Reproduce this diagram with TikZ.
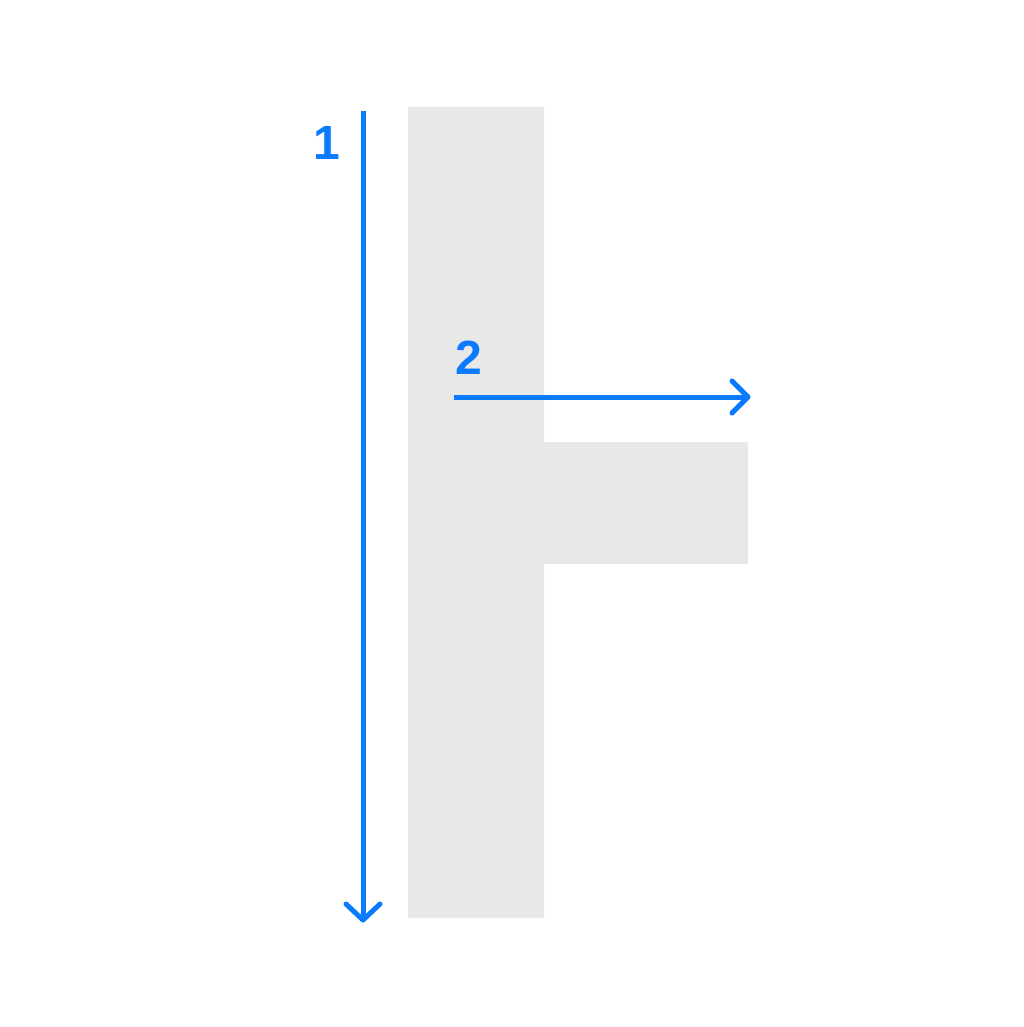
\documentclass[tikz,border=0pt]{standalone}
\usepackage{fontspec}
\setmainfont{Liberation Sans}
\definecolor{iosblue}{RGB}{10,122,255}
\definecolor{shapegray}{RGB}{232,232,232}
\tikzset{
  measure/.style={draw=iosblue, line width=5pt, line cap=round, line join=round},
  numlabel/.style={text=iosblue, font=\fontsize{48}{48}\selectfont\bfseries, inner sep=0pt}
}
\begin{document}
\begin{tikzpicture}[x=1pt,y=-1pt]
\useasboundingbox[fill=white] (0,0) rectangle (1024,1027);
% gray T-shape
\fill[shapegray] (408,107) -- (544,107) -- (544,442) -- (748,442) -- (748,564) -- (544,564) -- (544,918) -- (408,918) -- cycle;
% arrow 1
\coordinate (a1s) at (363,111);
\coordinate (a1e) at (363,920);
\draw[measure, line cap=butt] (a1s) -- (a1e);
\draw[measure] (346,904) -- (a1e) -- (380,904);
\node[numlabel] (l1) at (327,143) {1};
% arrow 2
\coordinate (a2s) at (454,397);
\coordinate (a2e) at (748,397);
\draw[measure, line cap=butt] (a2s) -- (a2e);
\draw[measure] (732,381) -- (a2e) -- (732,413);
\node[numlabel] (l2) at (469,358) {2};
\end{tikzpicture}
\end{document}
